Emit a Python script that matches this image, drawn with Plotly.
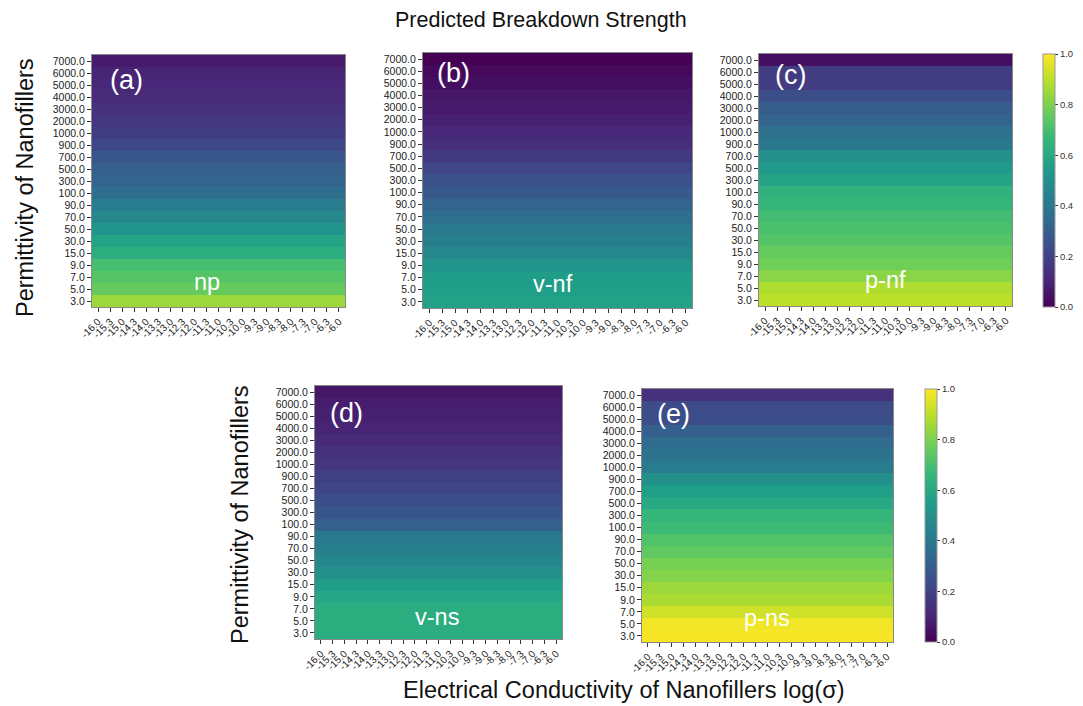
import plotly.graph_objects as go

W, H = 1083, 706

conductivity = ["-16.0", "-15.3", "-15.0", "-14.3", "-14.0", "-13.3", "-13.0", "-12.3",
                "-12.0", "-11.3", "-11.0", "-10.3", "-10.0", "-9.3", "-9.0", "-8.3",
                "-8.0", "-7.3", "-7.0", "-6.3", "-6.0"]
# permittivity rows, bottom to top
permittivity = ["3.0", "5.0", "7.0", "9.0", "15.0", "30.0", "50.0", "70.0", "90.0", "100.0",
                "300.0", "500.0", "700.0", "900.0", "1000.0", "2000.0", "3000.0", "4000.0",
                "5000.0", "6000.0", "7000.0"]

# normalised breakdown strength per permittivity row (listed top 7000 -> bottom 3.0)
np_vals = [0.07, 0.10, 0.11, 0.12, 0.14, 0.16, 0.18, 0.22, 0.27, 0.30, 0.32,
           0.36, 0.42, 0.47, 0.52, 0.58, 0.62, 0.70, 0.73, 0.76, 0.85]
vnf_vals = [0.00, 0.02, 0.04, 0.06, 0.07, 0.09, 0.11, 0.13, 0.17, 0.21, 0.25,
            0.28, 0.32, 0.36, 0.40, 0.43, 0.47, 0.52, 0.55, 0.56, 0.57]
pnf_vals = [0.04, 0.18, 0.18, 0.24, 0.29, 0.32, 0.37, 0.40, 0.50, 0.54, 0.58,
            0.64, 0.66, 0.69, 0.71, 0.73, 0.76, 0.78, 0.82, 0.88, 0.90]
vns_vals = [0.06, 0.08, 0.09, 0.10, 0.12, 0.14, 0.16, 0.19, 0.21, 0.24, 0.27,
            0.30, 0.40, 0.43, 0.46, 0.50, 0.55, 0.59, 0.62, 0.62, 0.62]
pns_vals = [0.14, 0.23, 0.24, 0.30, 0.35, 0.38, 0.42, 0.50, 0.56, 0.60, 0.66,
            0.68, 0.72, 0.75, 0.79, 0.81, 0.85, 0.87, 0.93, 0.98, 0.99]

panels = [
    ("(a)", "np", np_vals),
    ("(b)", "v-nf", vnf_vals),
    ("(c)", "p-nf", pnf_vals),
    ("(d)", "v-ns", vns_vals),
    ("(e)", "p-ns", pns_vals),
]

# plot-area boxes in pixels: left, right, top, bottom
boxes = [
    (92, 345, 55, 307),
    (423, 692, 53, 308),
    (759, 1012, 54, 306),
    (315, 562, 386, 639),
    (642, 893, 389, 642),
]
label_pos = [(126, 80), (453, 73), (790, 75), (346, 413), (673, 414)]
name_pos = [(207, 282), (553, 284), (885, 280), (437, 617), (767, 618)]
colorbars = {2: (1043, 54, 307), 4: (925, 389, 642)}


def fx(x):
    return x / W


def fy(y):
    return 1 - y / H


fig = go.Figure()
FONT = "Liberation Sans, Arial, sans-serif"

for i, (lab, name, vals) in enumerate(panels):
    rows = list(reversed(vals))  # bottom -> top, matching permittivity order
    z = [[v] * len(conductivity) for v in rows]
    xa = "x" if i == 0 else f"x{i+1}"
    ya = "y" if i == 0 else f"y{i+1}"
    tr = dict(
        z=z, x=conductivity, y=permittivity, colorscale="Viridis",
        zmin=0, zmax=1, xaxis=xa, yaxis=ya, showscale=i in colorbars,
        hoverinfo="skip",
    )
    if i in colorbars:
        cx, ct, cb = colorbars[i]
        tr["colorbar"] = dict(
            x=fx(cx), xanchor="left", xref="paper", xpad=0, ypad=0,
            y=fy((ct + cb) / 2), yanchor="middle", yref="paper",
            len=(cb - ct) / H, lenmode="fraction", thickness=12,
            outlinecolor="#999", outlinewidth=1,
            ticks="outside", ticklen=3, tickcolor="#333",
            tickvals=[0, 0.2, 0.4, 0.6, 0.8, 1.0], tickformat=".1f",
            tickfont=dict(size=9.5, color="#333", family=FONT),
        )
    fig.add_trace(go.Heatmap(**tr))

    l, r, t, b = boxes[i]
    axkey_x = "xaxis" if i == 0 else f"xaxis{i+1}"
    axkey_y = "yaxis" if i == 0 else f"yaxis{i+1}"
    fig.update_layout(**{
        axkey_x: dict(
            domain=[fx(l), fx(r)], anchor=ya, type="category",
            tickmode="array", tickvals=conductivity, ticktext=conductivity,
            tickangle=-45, ticks="outside", ticklen=4, tickcolor="#333",
            tickfont=dict(size=10, color="#222", family=FONT),
            showline=True, mirror=True, linecolor="#888", linewidth=1,
            showgrid=False, zeroline=False, fixedrange=True, automargin=False,
        ),
        axkey_y: dict(
            domain=[fy(b), fy(t)], anchor=xa, type="category",
            tickmode="array", tickvals=permittivity, ticktext=permittivity,
            ticks="outside", ticklen=4, tickcolor="#333",
            tickfont=dict(size=10.5, color="#222", family=FONT),
            showline=True, mirror=True, linecolor="#888", linewidth=1,
            showgrid=False, zeroline=False, fixedrange=True, automargin=False,
        ),
    })
    lx, ly = label_pos[i]
    nx, ny = name_pos[i]
    fig.add_annotation(x=fx(lx), y=fy(ly), xref="paper", yref="paper", text=lab,
                       xanchor="center", yanchor="middle",
                       showarrow=False, font=dict(size=27, color="white", family=FONT))
    fig.add_annotation(x=fx(nx), y=fy(ny), xref="paper", yref="paper", text=name,
                       xanchor="center", yanchor="middle",
                       showarrow=False, font=dict(size=23.5, color="white", family=FONT))

# titles
fig.add_annotation(x=fx(541), y=fy(20), xref="paper", yref="paper",
                   text="Predicted Breakdown Strength", showarrow=False,
                   xanchor="center", yanchor="middle",
                   font=dict(size=21.5, color="#111", family=FONT))
fig.add_annotation(x=fx(25), y=fy(188), xref="paper", yref="paper",
                   text="Permittivity of Nanofillers", textangle=-90, showarrow=False,
                   xanchor="center", yanchor="middle",
                   font=dict(size=23.5, color="#111", family=FONT))
fig.add_annotation(x=fx(240), y=fy(515), xref="paper", yref="paper",
                   text="Permittivity of Nanofillers", textangle=-90, showarrow=False,
                   xanchor="center", yanchor="middle",
                   font=dict(size=23.5, color="#111", family=FONT))
fig.add_annotation(x=fx(624), y=fy(690), xref="paper", yref="paper",
                   text="Electrical Conductivity of Nanofillers log(σ)", showarrow=False,
                   xanchor="center", yanchor="middle",
                   font=dict(size=23.5, color="#111", family=FONT))

fig.update_layout(
    width=W, height=H, autosize=False,
    margin=dict(l=0, r=0, t=0, b=0, pad=0, autoexpand=False),
    paper_bgcolor="white", plot_bgcolor="white",
    font=dict(family=FONT),
)

fig.write_html("out.html")
